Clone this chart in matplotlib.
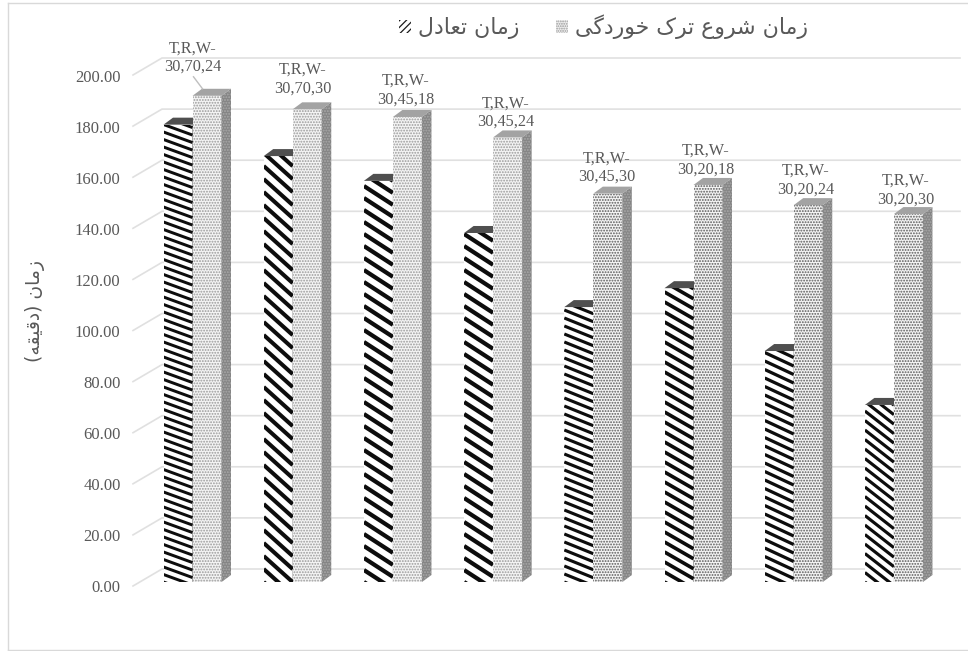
import numpy as np
import matplotlib
matplotlib.use("Agg")
import matplotlib.pyplot as plt
from matplotlib.patches import Polygon, Patch
from matplotlib.collections import LineCollection
from matplotlib.transforms import ScaledTranslation

# ---- data ----
labels_top = ["T,R,W-"] * 8
labels_bottom = ["30,70,24", "30,70,30", "30,45,18", "30,45,24",
                 "30,45,30", "30,20,18", "30,20,24", "30,20,30"]
balance_time = [179, 166.7, 157, 136.6, 107.6, 115, 90.4, 69.3]
crack_time = [190.3, 185, 182, 174, 152, 155.4, 147.5, 144]
y_ticks = [0, 20, 40, 60, 80, 100, 120, 140, 160, 180, 200]
series_names = ["زمان تعادل", "زمان شروع ترک خوردگی"]
y_title = "زمان (دقیقه)"

# ---- styling / layout (pixels of the 968x651 canvas) ----
W, H = 968, 651
PX_X0, PX_X1, PX_Y0, PX_Y1 = 133, 960, 582, 71
CAT0, CAT_STEP = 192.5, 100.2
PX_PER_UNIT = (PX_Y0 - PX_Y1) / 200
BAR_PX, DEPTH_X, DEPTH_Y = 29, 9.5, 7
GREY = "#595959"
stripe_angle = [20, 42, 33, 33, 22, 30, 25, 38]
stripe_period = [7.5, 13, 12, 12, 8, 10, 8.5, 9.5]
label_gap = [38, 30, 27, 25, 26, 25, 25, 24]
label_dx = [0, 10, 13, 13, 13, 12, 12, 12]
dot_colors = ["#9a9a9a", "#9a9a9a", "#9a9a9a", "#9a9a9a", "#5a5a5a", "#5a5a5a", "#5a5a5a", "#5a5a5a"]
dot_hatch = ["......", "......", "......", "......", "......", "......", "......", "......"]

# ---- Persian shaping (matplotlib draws no joined, right-to-left script by itself) ----
FORMS = {
    "ا": (0xFE8D, 0xFE8E), "د": (0xFEA9, 0xFEAA), "ر": (0xFEAD, 0xFEAE),
    "ز": (0xFEAF, 0xFEB0), "و": (0xFEED, 0xFEEE),
    "ت": (0xFE95, 0xFE96, 0xFE97, 0xFE98), "خ": (0xFEA5, 0xFEA6, 0xFEA7, 0xFEA8),
    "ش": (0xFEB5, 0xFEB6, 0xFEB7, 0xFEB8), "ع": (0xFEC9, 0xFECA, 0xFECB, 0xFECC),
    "ق": (0xFED5, 0xFED6, 0xFED7, 0xFED8), "ل": (0xFEDD, 0xFEDE, 0xFEDF, 0xFEE0),
    "م": (0xFEE1, 0xFEE2, 0xFEE3, 0xFEE4), "ن": (0xFEE5, 0xFEE6, 0xFEE7, 0xFEE8),
    "ه": (0xFEE9, 0xFEEA, 0xFEEB, 0xFEEC), "ک": (0xFB8E, 0xFB8F, 0xFB90, 0xFB91),
    "گ": (0xFB92, 0xFB93, 0xFB94, 0xFB95), "ی": (0xFBFC, 0xFBFD, 0xFBFE, 0xFBFF),
}
MIRROR = {"(": ")", ")": "("}


def shape(text):
    out = []
    for i, ch in enumerate(text):
        if ch not in FORMS:
            out.append(MIRROR.get(ch, ch))
            continue
        prev = text[i - 1] if i else ""
        nxt = text[i + 1] if i + 1 < len(text) else ""
        joins_prev = prev in FORMS and len(FORMS[prev]) == 4
        joins_next = len(FORMS[ch]) == 4 and nxt in FORMS
        f = FORMS[ch]
        if joins_prev and joins_next:
            out.append(chr(f[3]))
        elif joins_next:
            out.append(chr(f[2]))
        elif joins_prev:
            out.append(chr(f[1]))
        else:
            out.append(chr(f[0]))
    return "".join(reversed(out))


plt.rcParams["hatch.linewidth"] = 0.9
fig = plt.figure(figsize=(W / 100, H / 100), dpi=100)
ax = fig.add_axes([PX_X0 / W, 1 - PX_Y0 / H, (PX_X1 - PX_X0) / W, (PX_Y0 - PX_Y1) / H])
ax.set_xlim((PX_X0 - CAT0) / CAT_STEP, (PX_X1 - CAT0) / CAT_STEP)
ax.set_ylim(0, 200)
for s in ax.spines.values():
    s.set_visible(False)
ax.patch.set_alpha(0)

ux = 1 / CAT_STEP          # one pixel in x data units
uy = 1 / PX_PER_UNIT       # one pixel in y data units
bw = BAR_PX * ux
dx, dy = DEPTH_X * ux, DEPTH_Y * uy

# y axis
ax.set_xticks([])
ax.set_yticks(y_ticks)
ax.set_yticklabels([f"{v:.2f}" for v in y_ticks], family="Liberation Serif",
                   fontsize=12, color=GREY)
ax.tick_params(axis="y", length=0, pad=9)
shift = ScaledTranslation(0, -4.5 / 100, fig.dpi_scale_trans)
for lab in ax.get_yticklabels():
    lab.set_transform(lab.get_transform() + shift)

# 3-D wall grid: slanted floor segment plus a back-wall line for every tick
x_front = ax.get_xlim()[0]
x_back = x_front + 29 * ux
for v in y_ticks:
    yb = v + 13 * uy
    yf = v - 4 * uy
    ax.plot([x_front, x_back, ax.get_xlim()[1]], [yf, yb, yb], color="#e0e0e0",
            lw=1.2, clip_on=False, zorder=1, solid_joinstyle="miter")


def box(x, v, z, front_kw, top_color, side_color, side_hatch=None):
    bar = ax.bar(x, v, bw, align="edge", zorder=z, linewidth=0, **front_kw)[0]
    ax.add_patch(Polygon([(x + bw, 0), (x + bw + dx, dy), (x + bw + dx, v + dy), (x + bw, v)],
                         closed=True, facecolor=side_color, edgecolor="#a9a9a9" if side_hatch else side_color,
                         hatch=side_hatch, linewidth=0, zorder=z, clip_on=False))
    ax.add_patch(Polygon([(x, v), (x + dx, v + dy), (x + bw + dx, v + dy), (x + bw, v)],
                         closed=True, facecolor=top_color, edgecolor="none", zorder=z, clip_on=False))
    return bar


for i, (a, b) in enumerate(zip(balance_time, crack_time)):
    # black striped bar
    z = 3 + i * 0.1
    bar = box(i - bw, a, z, dict(color="white"), "#4f4f4f", "#4f4f4f")
    t = np.tan(np.radians(stripe_angle[i]))
    per = stripe_period[i] * uy
    drop = t * BAR_PX * uy
    starts = np.arange(-per, a + drop + per, per)
    segs = [[(i - bw, y0), (i, y0 - drop)] for y0 in starts]
    lc = LineCollection(segs, colors="#0d0d0d",
                        linewidths=stripe_period[i] * np.cos(np.radians(stripe_angle[i])) * 0.42 * 0.72,
                        zorder=z + 0.01)
    ax.add_collection(lc)
    lc.set_clip_path(bar)
    # dotted bar
    box(i, b, z + 0.02, dict(facecolor="#f4f4f4", edgecolor=dot_colors[i], hatch=dot_hatch[i]),
        "#a3a3a3", "#858585", "......")
    # data label
    cx = i + label_dx[i] * ux
    cy = b + label_gap[i] * uy
    ax.text(cx, cy, labels_top[i] + "\n" + labels_bottom[i], ha="center", va="center",
            family="Liberation Serif", fontsize=11.7, color=GREY, linespacing=1.2,
            zorder=6, clip_on=False)

# leader line of the first label
ax.plot([0 + 1 * ux, 0 + 10 * ux], [crack_time[0] + 19 * uy, crack_time[0] + 7 * uy],
        color="#bfbfbf", lw=1, zorder=5, clip_on=False)

# legend
handles = [Patch(facecolor="white", edgecolor="#1a1a1a", hatch="/////", linewidth=0),
           Patch(facecolor="#f0f0f0", edgecolor="#9a9a9a", hatch=".......", linewidth=0)]
leg = fig.legend(handles, [shape(n) for n in series_names], ncols=2, frameon=False,
                 loc="center", bbox_to_anchor=(603.5 / W, 1 - 27 / H),
                 handlelength=0.55, handleheight=0.55, handletextpad=0.3, columnspacing=1.69,
                 borderpad=0, prop=dict(family="DejaVu Sans", size=15.8), labelcolor=GREY)

# y-axis title
fig.text(35 / W, 1 - 311 / H, shape(y_title), rotation=90, ha="center", va="center",
         family="DejaVu Sans", fontsize=13.5, color=GREY)

# chart frame
for (x0, y0), (x1, y1) in ([(8, 3), (W, 3)], [(8, 3), (8, 650)], [(8, 650), (W, 650)]):
    fig.add_artist(plt.Line2D([x0 / W, x1 / W], [1 - y0 / H, 1 - y1 / H], color="#d9d9d9", lw=1))

fig.savefig("out.png", dpi=100)
